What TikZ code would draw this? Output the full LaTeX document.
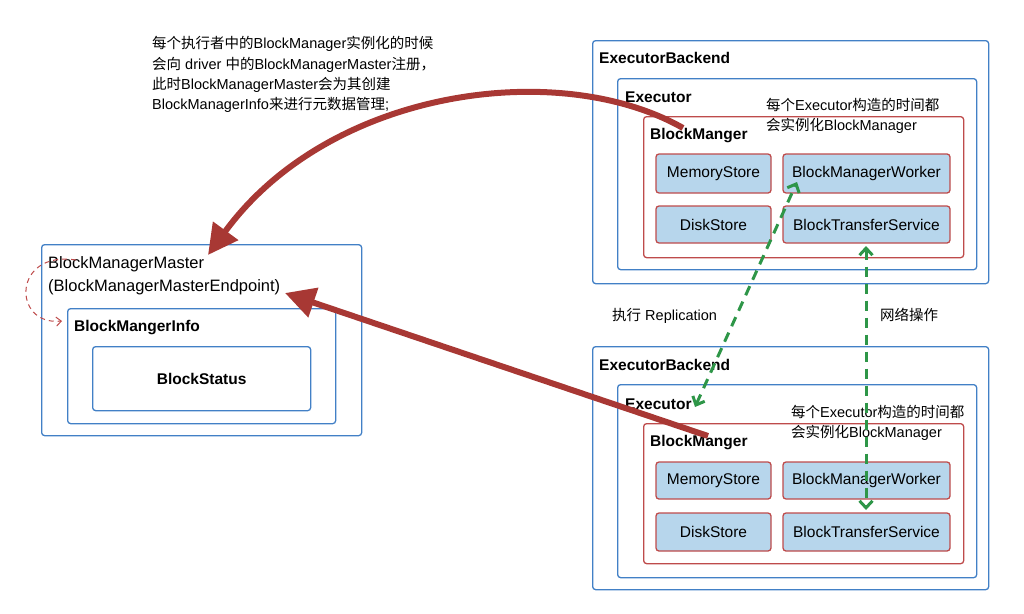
\documentclass[tikz,border=0pt]{standalone}
\usepackage{fontspec}
\setmainfont{Liberation Sans}
\newfontfamily\cjk{Noto Sans CJK SC}
\usetikzlibrary{arrows.meta}
\definecolor{bluec}{RGB}{66,128,198}
\definecolor{fillc}{RGB}{183,214,236}
\definecolor{redb}{RGB}{190,75,75}
\definecolor{arrowred}{RGB}{168,56,52}
\definecolor{greenc}{RGB}{46,150,72}
\begin{document}
\begin{tikzpicture}[x=1pt,y=-1pt,
 bluebox/.style={draw=bluec, line width=1.3pt, rounded corners=3pt, anchor=north west, inner sep=0pt},
 redbox/.style={draw=redb, line width=1.3pt, rounded corners=3pt, anchor=north west, inner sep=0pt},
 storebox/.style={draw=redb, fill=fillc, line width=1.3pt, rounded corners=3pt, inner sep=0pt, font=\fontsize{15.5}{18}\selectfont},
 title/.style={anchor=base west, inner sep=0pt, font=\fontsize{15.5}{18}\selectfont\bfseries},
 mtitle/.style={anchor=base west, inner sep=0pt, font=\fontsize{16.5}{20}\selectfont},
 note/.style={anchor=base west, inner sep=0pt, font=\fontsize{14.5}{18}\selectfont},
 bigarrow/.style={draw=arrowred, line width=6pt, -{Triangle[length=30pt,width=30pt]}},
 greenarrow/.style={draw=greenc, line width=3pt, dash pattern=on 10pt off 7pt, {Straight Barb[length=7pt,width=13pt]}-{Straight Barb[length=7pt,width=13pt]}},
 loop/.style={draw=redb, line width=1pt, dash pattern=on 5pt off 4pt, -{Straight Barb[length=5pt,width=9pt]}},
]
\useasboundingbox (0,0) rectangle (1024,613);

% ---------- left: master ----------
\node[bluebox, minimum width=320pt, minimum height=191pt] (master) at (41,244) {};
\node[bluebox, minimum width=268pt, minimum height=115pt] (info) at (67,308) {};
\node[bluebox, minimum width=218pt, minimum height=64pt] (status) at (92,346) {};
\node[mtitle] (mt1) at (48,268) {BlockManagerMaster};
\node[mtitle] (mt2) at (48,291) {(BlockManagerMasterEndpoint)};
\node[title] (it) at (74,331) {BlockMangerInfo};
\node[font=\fontsize{15.5}{18}\selectfont\bfseries, inner sep=0pt] (st) at (status.center) {BlockStatus};

% ---------- top-left note ----------
\node[note] (tl1) at (152,48) {{\cjk 每个执行者中的}BlockManager{\cjk 实例化的时候}};
\node[note] (tl2) at (152,69) {{\cjk 会向} driver {\cjk 中的}BlockManagerMaster{\cjk 注册，}};
\node[note] (tl3) at (152,89) {{\cjk 此时}BlockManagerMaster{\cjk 会为其创建}};
\node[note] (tl4) at (152,109) {BlockManagerInfo{\cjk 来进行元数据管理};};

% ---------- top executor backend ----------
\node[bluebox, minimum width=396pt, minimum height=243pt] (eb1) at (592,40) {};
\node[bluebox, minimum width=359pt, minimum height=191pt] (ex1) at (617,78) {};
\node[redbox, minimum width=320pt, minimum height=141pt] (bm1) at (643,116) {};
\node[title] (eb1t) at (599,63) {ExecutorBackend};
\node[title] (ex1t) at (625,102) {Executor};
\node[title] (bm1t) at (650,139) {BlockManger};
\node[note] (a1) at (766,110) {{\cjk 每个}Executor{\cjk 构造的时间都}};
\node[note] (a2) at (766,130) {{\cjk 会实例化}BlockManager};
\node[storebox, minimum width=115pt, minimum height=39pt] (ms1) at (713.5,173.5) {MemoryStore};
\node[storebox, minimum width=167pt, minimum height=39pt] (bw1) at (866.5,173.5) {BlockManagerWorker};
\node[storebox, minimum width=115pt, minimum height=37pt] (ds1) at (713.5,224.5) {DiskStore};
\node[storebox, minimum width=167pt, minimum height=37pt] (bt1) at (866.5,224.5) {BlockTransferService};

% ---------- bottom executor backend ----------
\node[bluebox, minimum width=396pt, minimum height=243pt] (eb2) at (592,346) {};
\node[bluebox, minimum width=359pt, minimum height=193pt] (ex2) at (617,384) {};
\node[redbox, minimum width=320pt, minimum height=140pt] (bm2) at (643,423) {};
\node[title] (eb2t) at (599,370) {ExecutorBackend};
\node[title] (ex2t) at (625,409) {Executor};
\node[title] (bm2t) at (650,446) {BlockManger};
\node[note] (b1) at (791,417) {{\cjk 每个}Executor{\cjk 构造的时间都}};
\node[note] (b2) at (791,437) {{\cjk 会实例化}BlockManager};
\node[storebox, minimum width=115pt, minimum height=37pt] (ms2) at (713.5,480.5) {MemoryStore};
\node[storebox, minimum width=167pt, minimum height=37pt] (bw2) at (866.5,480.5) {BlockManagerWorker};
\node[storebox, minimum width=115pt, minimum height=38pt] (ds2) at (713.5,532) {DiskStore};
\node[storebox, minimum width=167pt, minimum height=38pt] (bt2) at (866.5,532) {BlockTransferService};

% ---------- labels ----------
\node[note] (lr) at (612,320) {{\cjk 执行} Replication};
\node[note] (ln) at (880,320) {{\cjk 网络操作}};

% ---------- connectors ----------
\coordinate (r1s) at (683,128);
\coordinate (r1e) at (208,255);
\draw[bigarrow] (r1s) .. controls (560,58) and (330,88) .. (r1e);
\coordinate (r2s) at (708,436);
\coordinate (r2e) at (285,293);
\draw[bigarrow] (r2s) -- (r2e);

\coordinate (g1a) at (695,407);
\coordinate (g1b) at (797,182);
\draw[greenarrow] (g1a) -- (g1b);
\coordinate (g2a) at (866,246);
\coordinate (g2b) at (866,510);
\draw[greenarrow] (g2a) -- (g2b);

\coordinate (ls) at (76,260);
\coordinate (le) at (62,321);
\draw[loop] (ls) .. controls (12,250) and (12,326) .. (le);
\end{tikzpicture}
\end{document}
